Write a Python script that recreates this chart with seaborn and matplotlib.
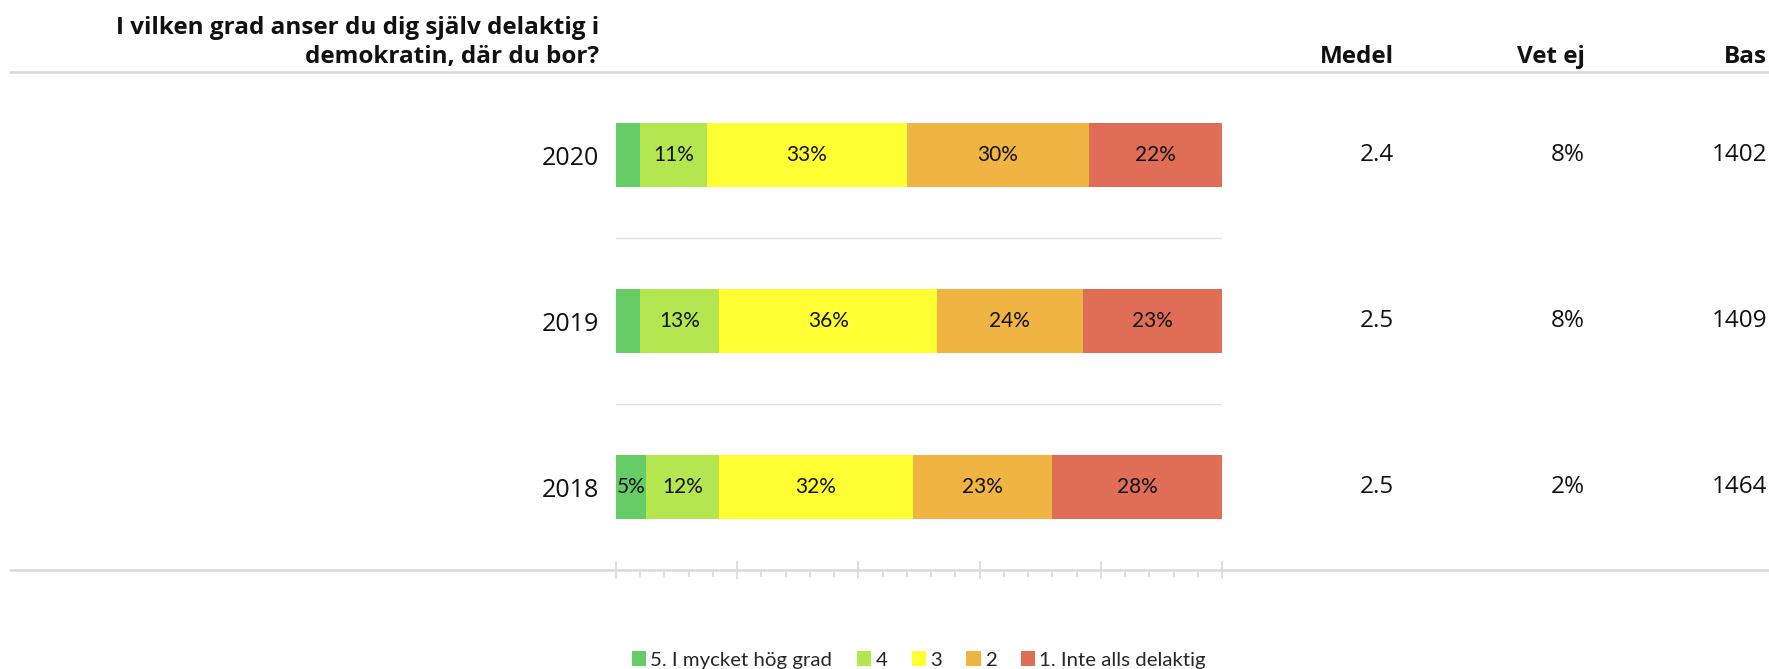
import matplotlib
matplotlib.use("Agg")
import matplotlib.pyplot as plt
import matplotlib.transforms as mtransforms
from matplotlib.lines import Line2D
from matplotlib.patches import Patch
import numpy as np
import pandas as pd
import seaborn as sns

# data
years = ["2020", "2019", "2018"]
categories = ["5. I mycket hög grad", "4", "3", "2", "1. Inte alls delaktig"]
shares = {
    "5. I mycket hög grad": [4, 4, 5],
    "4": [11, 13, 12],
    "3": [33, 36, 32],
    "2": [30, 24, 23],
    "1. Inte alls delaktig": [22, 23, 28],
}
medel = ["2.4", "2.5", "2.5"]
vet_ej = ["8%", "8%", "2%"]
bas = ["1402", "1409", "1464"]
title = "I vilken grad anser du dig själv delaktig i\ndemokratin, där du bor?"
colors = ["#66cd66", "#b4e650", "#ffff33", "#f0b442", "#e06e57"]

sns.set_theme(style="white")
plt.rcParams["font.family"] = ["Open Sans", "DejaVu Sans"]

W, H = 1769, 669
fig = plt.figure(figsize=(W / 100, H / 100), dpi=100)
ax = fig.add_axes([616 / W, 1 - 570 / H, (1222 - 616) / W, (570 - 72) / H])

df = pd.DataFrame(shares, index=years)
cum = df.cumsum(axis=1)

# stacked bars: draw cumulative totals from the outermost segment inwards
for cat, col in reversed(list(zip(categories, colors))):
    sns.barplot(x=cum[cat].values, y=years, color=col, orient="h",
                width=0.39, linewidth=0, saturation=1, ax=ax)

# segment labels
for i, yr in enumerate(years):
    left = 0
    for cat in categories:
        v = df.loc[yr, cat]
        if v >= 5:
            ax.text(left + v / 2, i, f"{v}%", ha="center", va="center",
                    fontsize=15, family=["Lato", "DejaVu Sans"], color="#111111")
        left += v

ax.set_xlim(0, 100)
ax.set_ylim(2.5, -0.5)
for s in ax.spines.values():
    s.set_visible(False)
ax.set_xlabel("")
ax.set_ylabel("")
ax.set_xticks(np.arange(0, 101, 20))
ax.set_xticks(np.arange(0, 101, 4), minor=True)
ax.set_xticklabels([])
ax.tick_params(axis="x", which="major", direction="inout", length=13, width=1.2,
               color="#d9d9d9", bottom=True)
ax.tick_params(axis="x", which="minor", direction="out", length=5, width=1.2,
               color="#d9d9d9", bottom=True)
ax.tick_params(axis="y", length=0, pad=12, labelsize=18, labelcolor="#111111")

# separators between rows
for yy in [0.5, 1.5]:
    ax.axhline(yy, color="#e3e3e3", lw=1)

# full-width rules
for yp in [72, 570]:
    fig.add_artist(Line2D([10 / W, 1], [1 - yp / H, 1 - yp / H],
                          transform=fig.transFigure, color="#d9d9d9", lw=1.8))

# title and headers
fig.text(599 / W, 1 - 69 / H, title, ha="right", va="bottom", ma="right",
         fontsize=17.5, fontweight="bold", color="#111111", linespacing=1.3)
col_x = [1394 / W, 1585 / W, 1767 / W]
for x, h in zip(col_x, ["Medel", "Vet ej", "Bas"]):
    fig.text(x, 1 - 69 / H, h, ha="right", va="bottom", fontsize=17.5,
             fontweight="bold", color="#111111")

tr = mtransforms.blended_transform_factory(fig.transFigure, ax.transData)
for i in range(len(years)):
    for x, vals in zip(col_x, [medel, vet_ej, bas]):
        ax.text(x, i, vals[i], transform=tr, ha="right", va="center",
                fontsize=17.5, color="#111111", clip_on=False)

handles = [Patch(facecolor=c, edgecolor="none") for c in colors]
fig.legend(handles, categories, loc="center", bbox_to_anchor=(919 / W, 1 - 660 / H),
           ncol=5, frameon=False, handlelength=0.7, handleheight=0.7,
           handletextpad=0.2, columnspacing=1.2,
           prop={"family": ["Lato", "DejaVu Sans"], "size": 14.7})

fig.savefig("out.png", dpi=100)
